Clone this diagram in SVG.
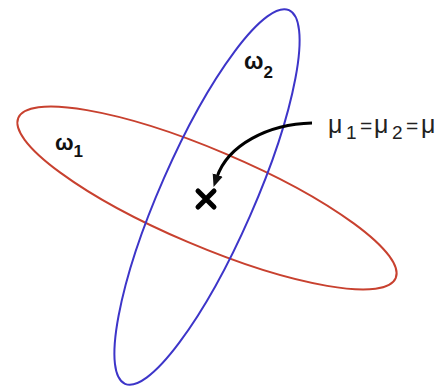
<svg xmlns="http://www.w3.org/2000/svg" width="445" height="389" viewBox="0 0 445 389">
<style>
.ell{fill:none;stroke-width:2}
.lbl{font-family:"Liberation Sans",Arial,sans-serif;font-weight:bold;fill:#111}
.mu{font-family:"Liberation Sans",Arial,sans-serif;fill:#222}
</style>
<defs>
<marker id="ah" viewBox="0 0 12 10" refX="2" refY="5" markerWidth="4.2" markerHeight="3.6" orient="auto" markerUnits="strokeWidth">
<path d="M0,0 L12,5 L0,10 Z" fill="#111"/>
</marker>
</defs>
<rect width="445" height="389" fill="#fff"/>
<g id="omega1">
<ellipse class="ell" cx="207" cy="198" rx="205" ry="48" transform="rotate(23 207 198)" stroke="#c8412f"/>
<text class="lbl" x="55" y="150" font-size="22">ω<tspan font-size="17" dy="7">1</tspan></text>
</g>
<g id="omega2">
<ellipse class="ell" cx="207" cy="197" rx="47" ry="204" transform="rotate(23.7 207 197)" stroke="#3d35c9"/>
<text class="lbl" x="244" y="69" font-size="23">ω<tspan font-size="17" dy="9">2</tspan></text>
</g>
<g id="mean">
<path d="M198,191 L214,207 M214,191 L198,207" stroke="#000" stroke-width="5" stroke-linecap="round"/>
<text class="mu" y="133" font-size="25"><tspan x="328">μ</tspan><tspan x="346" dy="6" font-size="19">1</tspan><tspan x="360" dy="-6" font-size="21">=</tspan><tspan x="374">μ</tspan><tspan x="392" dy="6" font-size="19">2</tspan><tspan x="406" dy="-6" font-size="21">=</tspan><tspan x="421">μ</tspan></text>
</g>
<g id="connectors">
<path d="M312,123 C268,124 228,145 217,177" fill="none" stroke="#000" stroke-width="3" marker-end="url(#ah)"/>
</g>
</svg>
